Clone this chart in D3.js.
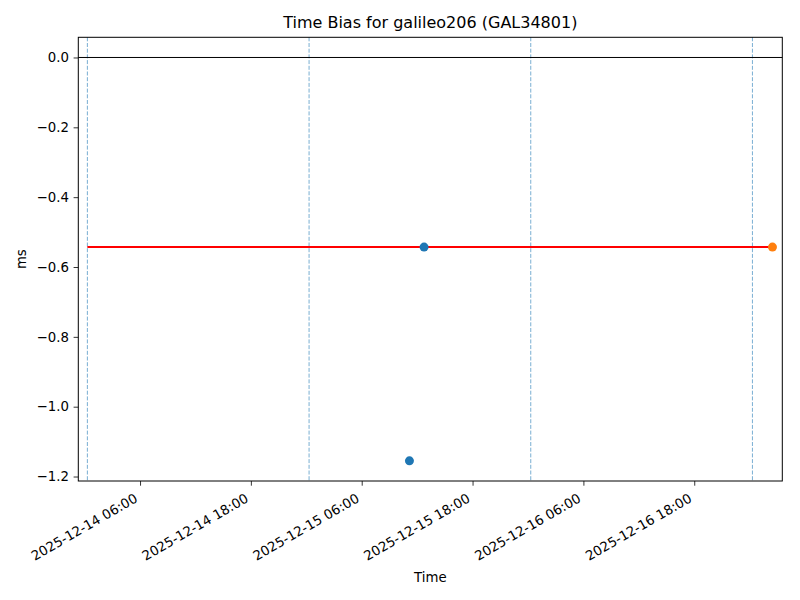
<!DOCTYPE html>
<html>
<head>
  <meta charset="utf-8">
  <title>Time Bias for galileo206</title>
  <script src="https://cdn.jsdelivr.net/npm/d3@7/dist/d3.min.js"></script>
  <style>
    body { margin: 0; background: #fff; }
    svg text { font-family: "DejaVu Sans", sans-serif; fill: #000; }
    .tick text { font-size: 13.3px; }
  </style>
</head>
<body>
  <svg id="chart" width="800" height="600"></svg>
  <script>
    // data
    var pointTimes = ['2025-12-15T11:10', '2025-12-15T12:45'];
    var pointValues = [-1.155, -0.543];
    var latestTime = '2025-12-17T02:28';
    var latestValue = -0.543;
    var meanValue = -0.543;
    var meanStart = '2025-12-14T00:18';
    var dayLines = ['2025-12-14T00:18', '2025-12-15T00:18', '2025-12-16T00:18', '2025-12-17T00:18'];
    var xLimits = ['2025-12-13T23:19', '2025-12-17T03:32'];
    var xTicks = ['2025-12-14T06:00', '2025-12-14T18:00', '2025-12-15T06:00',
                  '2025-12-15T18:00', '2025-12-16T06:00', '2025-12-16T18:00'];
    var yLimits = [-1.2128, 0.0578];
    var yTicks = [0, -0.2, -0.4, -0.6, -0.8, -1.0, -1.2];

    var parse = d3.utcParse('%Y-%m-%dT%H:%M');
    var fmt = d3.utcFormat('%Y-%m-%d %H:%M');

    var m = { left: 78.3, right: 782.3, top: 37.3, bottom: 481 };

    var x = d3.scaleUtc().domain(xLimits.map(parse)).range([m.left, m.right]);
    var y = d3.scaleLinear().domain(yLimits).range([m.bottom, m.top]);

    var svg = d3.select('#chart');

    // day marker lines
    svg.selectAll('line.day')
      .data(dayLines)
      .enter()
      .append('line')
      .attr('class', 'day')
      .attr('x1', d => x(parse(d)))
      .attr('x2', d => x(parse(d)))
      .attr('y1', m.top)
      .attr('y2', m.bottom)
      .attr('stroke', '#1f77b4')
      .attr('stroke-opacity', 0.75)
      .attr('stroke-width', 0.8)
      .attr('stroke-dasharray', '4,1.7');

    // zero line
    svg.append('line')
      .attr('x1', m.left).attr('x2', m.right)
      .attr('y1', y(0)).attr('y2', y(0))
      .attr('stroke', '#000')
      .attr('stroke-width', 1);

    // mean line
    svg.append('line')
      .attr('x1', x(parse(meanStart)))
      .attr('x2', x(parse(latestTime)))
      .attr('y1', y(meanValue))
      .attr('y2', y(meanValue))
      .attr('stroke', 'red')
      .attr('stroke-width', 2);

    svg.selectAll('circle.pt')
      .data(pointTimes)
      .enter()
      .append('circle')
      .attr('class', 'pt')
      .attr('cx', d => x(parse(d)))
      .attr('cy', (d, i) => y(pointValues[i]))
      .attr('r', 4.5)
      .attr('fill', '#1f77b4');

    svg.append('circle')
      .attr('cx', x(parse(latestTime)))
      .attr('cy', y(latestValue))
      .attr('r', 4.5)
      .attr('fill', '#ff7f0e');

    // axes
    var xAxis = svg.append('g')
      .attr('transform', 'translate(0,' + m.bottom + ')')
      .call(d3.axisBottom(x).tickValues(xTicks.map(parse)).tickFormat(fmt)
        .tickSize(4.7).tickPadding(0));
    xAxis.select('.domain').remove();
    xAxis.selectAll('.tick line').attr('stroke', '#000').attr('stroke-width', 0.8);
    xAxis.selectAll('.tick text')
      .attr('text-anchor', 'end')
      .attr('dy', null)
      .attr('y', 0)
      .attr('transform', 'translate(-2,20) rotate(-30)');

    var yAxis = svg.append('g')
      .attr('transform', 'translate(' + m.left + ',0)')
      .call(d3.axisLeft(y).tickValues(yTicks)
        .tickFormat(d => d3.format('.1f')(d).replace('-', '\u2212'))
        .tickSize(4.7).tickPadding(4.7));
    yAxis.select('.domain').remove();
    yAxis.selectAll('.tick line').attr('stroke', '#000').attr('stroke-width', 0.8);

    // frame
    svg.append('rect')
      .attr('x', m.left).attr('y', m.top)
      .attr('width', m.right - m.left).attr('height', m.bottom - m.top)
      .attr('fill', 'none')
      .attr('stroke', '#000')
      .attr('stroke-width', 1);

    svg.append('text')
      .attr('x', (m.left + m.right) / 2)
      .attr('y', 28)
      .attr('text-anchor', 'middle')
      .style('font-size', '16px')
      .text('Time Bias for galileo206 (GAL34801)');

    svg.append('text')
      .attr('x', (m.left + m.right) / 2)
      .attr('y', 582)
      .attr('text-anchor', 'middle')
      .style('font-size', '13.3px')
      .text('Time');

    svg.append('text')
      .attr('transform', 'translate(26,' + (m.top + m.bottom) / 2 + ') rotate(-90)')
      .attr('text-anchor', 'middle')
      .style('font-size', '13.3px')
      .text('ms');
  </script>
</body>
</html>
